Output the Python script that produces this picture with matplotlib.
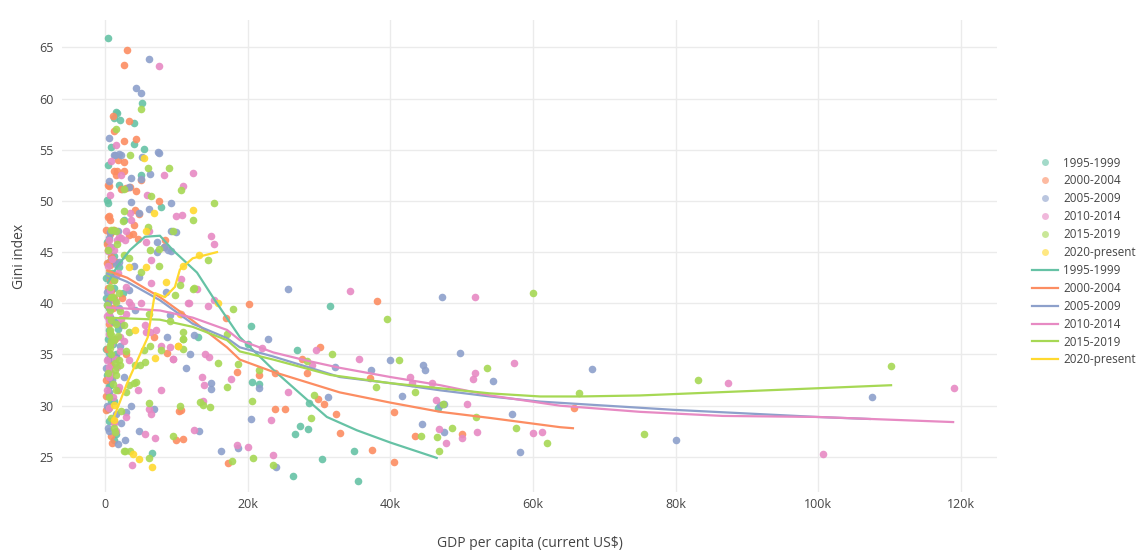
import matplotlib.pyplot as plt
from matplotlib.lines import Line2D

# GDP per capita in thousands of current US$, Gini index
periods = ["1995-1999", "2000-2004", "2005-2009", "2010-2014", "2015-2019", "2020-present"]
colors = ["#66c2a5", "#fc8d62", "#8da0cb", "#e78ac3", "#a6d854", "#ffd92f"]

gdp_1995 = [0.4, 1.7, 1.2, 2.1, 4.1, 1.6, 5.2, 4.1, 0.9, 5.5, 0.4, 5.1, 1.9, 2.4, 0.4, 0.3, 7.9, 2.6,
            0.9, 1.2, 0.7, 0.5, 0.6, 0.5, 0.4, 1.2, 1.5, 6.6, 13.1, 20.5, 20.1, 26.9, 31.5, 20.6, 21.6,
            28.6, 27.3, 28.4, 26.7, 26.4, 30.4, 34.9, 35.4, 46.7, 1.0, 0.8, 0.2, 0.6, 1.1, 0.3, 0.8,
            2.5, 1.4, 0.2, 0.5, 0.3, 0.5, 1.3, 0.2, 0.9, 0.4, 1.6, 0.7, 1.2, 0.5, 2.0, 1.8]
gini_1995 = [65.9, 58.6, 58.1, 57.9, 57.6, 58.7, 59.6, 55.6, 55.3, 55.1, 53.5, 52.5, 51.6, 51.2, 49.8, 50.1, 49.4, 48.1,
             44.6, 44.6, 34.6, 37.4, 35.1, 31.9, 29.7, 26.6, 27.2, 25.4, 36.7, 37.8, 36.0, 35.4, 39.7, 32.3, 32.1,
             30.3, 28.0, 27.7, 27.2, 23.1, 24.8, 25.6, 22.6, 29.8, 43.0, 47.0, 42.5, 39.5, 36.0, 33.0, 30.5,
             41.0, 38.2, 35.5, 29.9, 46.0, 44.0, 41.5, 40.5, 38.5, 36.5, 35.0, 32.0, 30.5, 28.5, 43.5, 37.5]

gdp_2000 = [3.1, 2.7, 1.1, 3.3, 1.3, 2.7, 4.3, 1.8, 2.6, 1.2, 1.6, 1.7, 2.7, 5.0, 0.6, 0.4, 2.3, 2.9, 3.5, 4.4,
            7.6, 4.2, 0.4, 0.7, 0.5, 4.7, 4.0, 0.2, 0.7, 1.2, 3.9, 3.3, 4.6, 8.4, 8.2, 0.4, 1.2, 0.7, 0.7, 0.5,
            1.3, 0.7, 0.2, 0.2, 0.5, 0.2, 0.9, 1.0, 6.8, 8.7, 10.3, 10.7, 10.4, 10.0, 10.9, 17.0, 20.2, 18.5,
            17.3, 30.1, 27.6, 28.3, 23.8, 21.6, 23.8, 25.3, 29.8, 30.7, 32.4, 33.0, 38.1, 37.1, 37.4, 40.5,
            40.5, 43.5, 50.1, 65.8, 1.5, 2.2, 3.0, 1.8, 0.3, 0.9, 0.3, 0.8, 1.6, 0.4, 1.1, 0.6, 1.4, 0.3,
            0.9, 0.5, 1.2, 2.4]
gini_2000 = [64.7, 63.3, 58.3, 57.8, 56.8, 55.9, 56.0, 54.0, 53.8, 52.9, 52.5, 52.9, 52.9, 52.0, 51.5, 51.6, 51.2, 51.3, 51.4, 51.0,
             50.0, 49.1, 48.4, 48.1, 48.5, 48.7, 47.6, 47.2, 46.8, 47.2, 46.8, 46.7, 46.3, 46.2, 45.5, 45.2, 42.3, 43.7, 42.3, 40.3,
             40.5, 32.6, 32.5, 30.9, 29.9, 29.6, 27.0, 26.4, 36.7, 35.1, 35.8, 29.6, 29.5, 26.6, 26.7, 38.6, 39.9, 33.3,
             24.4, 35.7, 34.6, 33.2, 33.2, 33.0, 29.7, 29.7, 30.7, 30.2, 29.2, 27.3, 40.2, 32.7, 25.7, 24.5,
             29.4, 27.0, 27.2, 29.8, 44.0, 38.0, 35.0, 31.5, 43.9, 41.2, 45.8, 44.5, 42.8, 41.5, 39.5, 38.0, 36.5, 35.5,
             34.0, 31.0, 28.5, 40.5]

gdp_2005 = [6.2, 4.4, 5.1, 0.6, 7.4, 1.2, 1.9, 2.3, 1.4, 7.5, 5.2, 3.6, 6.3, 5.0, 0.5, 3.4, 3.6, 9.3, 6.2, 4.8,
            1.8, 10.0, 9.3, 0.7, 0.5, 7.3, 7.3, 8.9, 8.3, 9.2, 4.0, 4.7, 0.5, 3.3, 8.6, 0.3, 0.3, 4.2, 0.7, 9.1,
            2.3, 8.7, 2.1, 0.2, 0.6, 3.6, 6.9, 3.0, 2.3, 0.6, 4.8, 1.8, 2.8, 12.5, 11.9, 11.3, 14.8, 14.8, 13.2,
            16.2, 18.6, 20.4, 22.9, 21.6, 25.7, 32.2, 31.3, 37.3, 40.0, 44.6, 44.8, 47.2, 49.7, 54.4, 41.7,
            47.0, 47.5, 44.4, 47.5, 57.0, 58.2, 68.3, 80.0, 107.5, 24.0, 0.4, 2.0, 0.9, 1.5, 0.4, 1.2, 0.8,
            1.6, 0.4, 1.0, 0.3, 1.5, 2.6, 1.9]
gini_2005 = [63.9, 61.0, 60.5, 56.1, 54.8, 54.5, 54.6, 54.5, 54.5, 54.7, 54.3, 52.2, 52.6, 52.1, 51.9, 51.4, 49.9, 49.8, 49.2, 48.8,
             47.1, 47.0, 47.1, 47.0, 46.4, 46.0, 45.0, 45.2, 45.5, 45.1, 43.6, 42.6, 42.8, 41.3, 41.1, 41.1, 39.8, 39.3, 38.7, 38.9,
             37.9, 36.7, 35.8, 33.7, 31.3, 30.0, 29.7, 29.4, 28.3, 27.5, 27.5, 26.3, 26.6, 36.9, 35.0, 33.7, 32.2, 31.6, 27.5,
             25.6, 25.9, 28.7, 36.5, 31.7, 41.4, 33.8, 30.8, 33.5, 34.5, 34.0, 33.5, 40.6, 35.1, 32.4, 30.9,
             30.1, 30.2, 28.2, 27.4, 29.2, 25.5, 33.6, 26.6, 30.8, 24.0, 27.8, 44.0, 45.5, 43.8, 40.0, 38.2, 36.2,
             34.8, 34.6, 32.5, 30.0, 29.2, 32.8, 39.5]

gdp_2010 = [7.6, 1.6, 0.8, 2.2, 8.2, 12.4, 10.9, 0.7, 5.9, 3.5, 10.0, 10.8, 3.7, 2.9, 6.2, 14.9, 15.3, 5.8, 0.5,
            0.7, 1.7, 2.3, 2.8, 1.9, 0.4, 1.2, 6.5, 0.4, 6.5, 3.0, 3.3, 3.7, 5.1, 0.5, 0.5, 3.0, 10.7, 0.3, 5.6,
            5.8, 6.3, 7.2, 2.1, 2.6, 0.6, 2.1, 1.4, 3.3, 7.9, 9.1, 9.6, 9.5, 0.5, 0.9, 0.5, 0.3, 0.6, 4.6, 7.9,
            6.5, 6.1, 3.0, 1.3, 5.6, 7.0, 3.8, 10.7, 12.9, 11.8, 14.4, 15.3, 11.7, 14.0, 14.6, 13.6, 13.9, 13.8,
            17.6, 12.5, 18.5, 20.1, 22.0, 29.6, 29.0, 34.4, 35.6, 25.6, 23.3, 23.6, 42.7, 43.0, 45.8, 46.4,
            46.8, 47.8, 50.0, 52.2, 50.8, 51.6, 51.9, 51.9, 57.4, 60.0, 61.2, 87.3, 100.6, 119.0,
            1.0, 1.8, 0.7, 1.4, 2.2, 0.9, 1.7, 0.3, 1.1, 0.6, 2.0, 1.5]
gini_2010 = [63.2, 55.5, 53.9, 52.5, 52.5, 52.7, 51.5, 50.6, 50.6, 48.8, 48.5, 48.6, 48.1, 47.1, 47.1, 46.6, 45.8, 46.0, 46.2,
             45.5, 46.2, 46.4, 46.2, 46.5, 45.1, 45.2, 44.2, 43.6, 42.0, 41.6, 40.1, 39.8, 40.0, 39.0, 38.4, 39.0, 39.0, 38.8, 37.9,
             37.2, 37.2, 37.4, 36.7, 36.3, 37.0, 35.3, 34.6, 34.5, 35.8, 35.7, 34.6, 34.6, 33.8, 33.2, 32.8, 34.5, 33.4, 31.5, 31.5,
             29.2, 29.7, 28.9, 28.3, 27.2, 26.8, 24.2, 42.4, 41.4, 40.0, 39.7, 40.3, 40.0, 35.0, 34.8, 32.8, 32.0, 30.5,
             32.6, 27.6, 26.2, 26.0, 35.6, 35.4, 34.0, 41.2, 34.6, 31.3, 28.6, 25.2, 32.8, 32.2, 32.2, 30.6,
             27.7, 26.4, 26.8, 27.4, 30.2, 32.6, 33.2, 40.6, 34.2, 27.3, 27.4, 32.2, 25.3, 31.7,
             44.3, 43.0, 41.3, 40.2, 38.5, 36.0, 33.8, 31.5, 30.8, 29.8, 31.8, 27.5]

gdp_2015 = [5.1, 1.5, 3.5, 6.0, 9.0, 6.5, 2.7, 10.7, 15.3, 12.3, 2.6, 2.5, 6.0, 1.1, 1.5, 0.9, 9.5, 6.3, 7.5, 3.4,
            2.6, 14.4, 7.5, 5.0, 0.4, 0.7, 1.1, 9.8, 10.5, 12.5, 12.3, 0.9, 1.6, 2.1, 6.1, 0.7, 0.9, 0.7, 1.6, 2.6,
            3.3, 9.1, 0.7, 0.9, 0.7, 0.9, 1.2, 0.7, 0.9, 1.4, 3.0, 1.9, 2.1, 5.4, 5.6, 6.3, 7.9, 4.2, 4.9, 1.4,
            1.6, 3.3, 4.0, 4.4, 3.0, 6.1, 1.3, 1.4, 2.8, 3.5, 2.7, 6.1, 9.6, 10.5, 10.9, 10.9, 10.9, 11.0, 17.1,
            17.9, 15.8, 18.7, 17.1, 13.3, 13.8, 14.7, 17.8, 20.7, 20.6, 21.6, 28.3, 31.8, 29.3, 28.9, 23.6,
            39.5, 38.0, 41.2, 43.5, 47.4, 44.3, 46.5, 46.8, 48.7, 52.0, 53.6, 57.6, 60.0, 62.0, 66.5, 75.5,
            83.1, 110.2, 1.7, 0.5, 1.3, 2.0, 0.3, 1.8, 0.4, 1.1, 0.6, 2.3, 0.9, 1.6]
gini_2015 = [59.0, 57.0, 54.5, 53.2, 53.2, 50.5, 51.2, 51.1, 49.8, 48.1, 49.0, 48.0, 47.5, 47.2, 47.1, 47.2, 47.1, 45.2, 45.3, 44.4,
             44.7, 44.2, 43.6, 43.1, 45.2, 41.6, 40.6, 40.8, 41.8, 41.5, 41.4, 40.6, 40.1, 39.2, 39.0, 39.3, 38.4, 37.4, 38.0, 37.9,
             37.2, 38.3, 37.1, 36.3, 35.6, 36.9, 36.4, 35.9, 35.0, 34.2, 35.3, 34.5, 34.0, 35.4, 34.3, 35.8, 35.4, 34.0, 34.0, 33.5,
             33.0, 32.0, 32.2, 32.3, 31.3, 30.3, 27.8, 27.4, 25.6, 25.6, 25.6, 24.9, 27.0, 30.0, 37.2, 36.5, 35.5, 36.5, 37.0,
             39.4, 34.2, 34.1, 31.8, 30.4, 30.1, 29.9, 24.6, 24.9, 30.5, 33.5, 34.4, 35.0, 31.0, 28.8, 24.2,
             38.5, 31.8, 34.5, 31.3, 30.2, 27.0, 26.9, 25.6, 27.8, 28.9, 33.7, 27.8, 41.0, 26.4, 31.2, 27.2,
             32.5, 33.9, 45.8, 43.0, 42.3, 41.0, 39.8, 36.8, 33.2, 32.1, 30.8, 29.5, 28.8, 31.5]

gdp_2020 = [5.4, 6.9, 12.3, 5.7, 3.3, 5.8, 11.0, 13.2, 8.6, 15.8, 10.5, 4.2, 7.0, 10.3, 1.3, 1.2, 3.9, 4.7, 6.6]
gini_2020 = [54.2, 48.8, 49.1, 47.1, 43.5, 43.5, 43.6, 44.7, 42.1, 40.0, 39.0, 37.4, 34.7, 35.8, 30.1, 28.6, 25.3, 24.8, 24.0]

# LOWESS trendlines as drawn in the reference
trend_x = [
    [0.4, 1.7, 3.5, 5.6, 7.7, 9.5, 12.9, 15.4, 18.9, 23.6, 28.3, 31.1, 35.3, 40.0, 46.5],
    [0.3, 3.1, 7.7, 12.3, 17.1, 18.9, 23.6, 32.9, 40.0, 47.0, 54.0, 63.8, 65.6],
    [0.3, 3.1, 7.7, 12.3, 17.1, 18.9, 23.6, 28.3, 32.9, 40.0, 47.0, 54.0, 61.0, 79.6, 99.8, 107.2],
    [0.3, 7.7, 12.3, 17.1, 18.9, 23.6, 28.3, 32.9, 40.0, 47.0, 54.0, 63.8, 75.0, 86.6, 99.8, 118.9],
    [0.3, 7.7, 12.3, 17.1, 18.9, 23.6, 31.6, 40.0, 47.0, 54.0, 61.0, 66.5, 75.0, 99.8, 110.2],
    [1.1, 3.1, 6.0, 7.0, 8.4, 9.8, 10.5, 12.3, 15.7],
]
trend_y = [
    [42.0, 43.6, 45.2, 46.5, 46.6, 45.2, 43.0, 40.3, 36.7, 33.5, 30.6, 28.9, 27.6, 26.4, 24.9],
    [43.2, 42.5, 40.6, 38.3, 35.7, 34.5, 33.3, 31.3, 30.3, 29.4, 28.8, 27.9, 27.8],
    [42.9, 42.1, 40.3, 38.0, 36.6, 35.7, 34.8, 33.8, 32.8, 32.2, 31.5, 30.9, 30.4, 29.6, 28.9, 28.7],
    [39.6, 39.3, 38.6, 37.4, 36.4, 35.2, 34.4, 33.7, 32.8, 32.0, 31.0, 30.0, 29.4, 29.0, 28.9, 28.4],
    [38.6, 38.4, 37.7, 36.4, 35.3, 34.5, 33.0, 32.2, 31.7, 31.2, 30.9, 30.9, 31.0, 31.7, 32.0],
    [28.6, 32.2, 36.7, 41.0, 40.6, 41.6, 43.3, 44.4, 45.0],
]

gdp_all = [gdp_1995, gdp_2000, gdp_2005, gdp_2010, gdp_2015, gdp_2020]
gini_all = [gini_1995, gini_2000, gini_2005, gini_2010, gini_2015, gini_2020]

plt.rcParams['font.family'] = ['Open Sans', 'DejaVu Sans']
fig = plt.figure(figsize=(11.43, 5.5), dpi=100)
ax = fig.add_axes([62 / 1143, 58 / 550, 935 / 1143, 472 / 550])

for gx, gy, c in zip(gdp_all, gini_all, colors):
    ax.scatter(gx, gy, s=30, color=c, alpha=0.9, linewidths=0, zorder=3)
for tx, ty, c in zip(trend_x, trend_y, colors):
    ax.plot(tx, ty, color=c, linewidth=1.6, zorder=4)

ax.set_xlim(-6.03, 125.05)
ax.set_ylim(21.57, 67.67)
ax.set_xticks([0, 20, 40, 60, 80, 100, 120])
ax.set_xticklabels(["0", "20k", "40k", "60k", "80k", "100k", "120k"])
ax.set_yticks([25, 30, 35, 40, 45, 50, 55, 60, 65])
ax.grid(color="#ebebeb", linewidth=1)
ax.set_axisbelow(True)
for s in ax.spines.values():
    s.set_visible(False)
ax.tick_params(length=0, colors="#444444", labelsize=9)
ax.tick_params(axis="y", pad=6)
ax.tick_params(axis="x", pad=4)
ax.set_xlabel("GDP per capita (current US$)", fontsize=10, color="#444444", labelpad=18)
ax.set_ylabel("Gini index", fontsize=10, color="#444444", labelpad=9)

handles = []
labels = []
for p, c in zip(periods, colors):
    handles.append(Line2D([], [], linestyle="none", marker="o", markersize=5, color=c, alpha=0.6, markeredgewidth=0))
    labels.append(p)
for p, c in zip(periods, colors):
    handles.append(Line2D([], [], color=c, linewidth=1.6))
    labels.append(p)
leg = fig.legend(handles, labels, loc="center left", bbox_to_anchor=(1026 / 1143, 0.5245), frameon=False,
                 fontsize=8.4, labelspacing=0.42, handlelength=2.2, handletextpad=0.5, borderpad=0)
for t in leg.get_texts():
    t.set_color("#444444")

fig.savefig("out.png", dpi=100)
